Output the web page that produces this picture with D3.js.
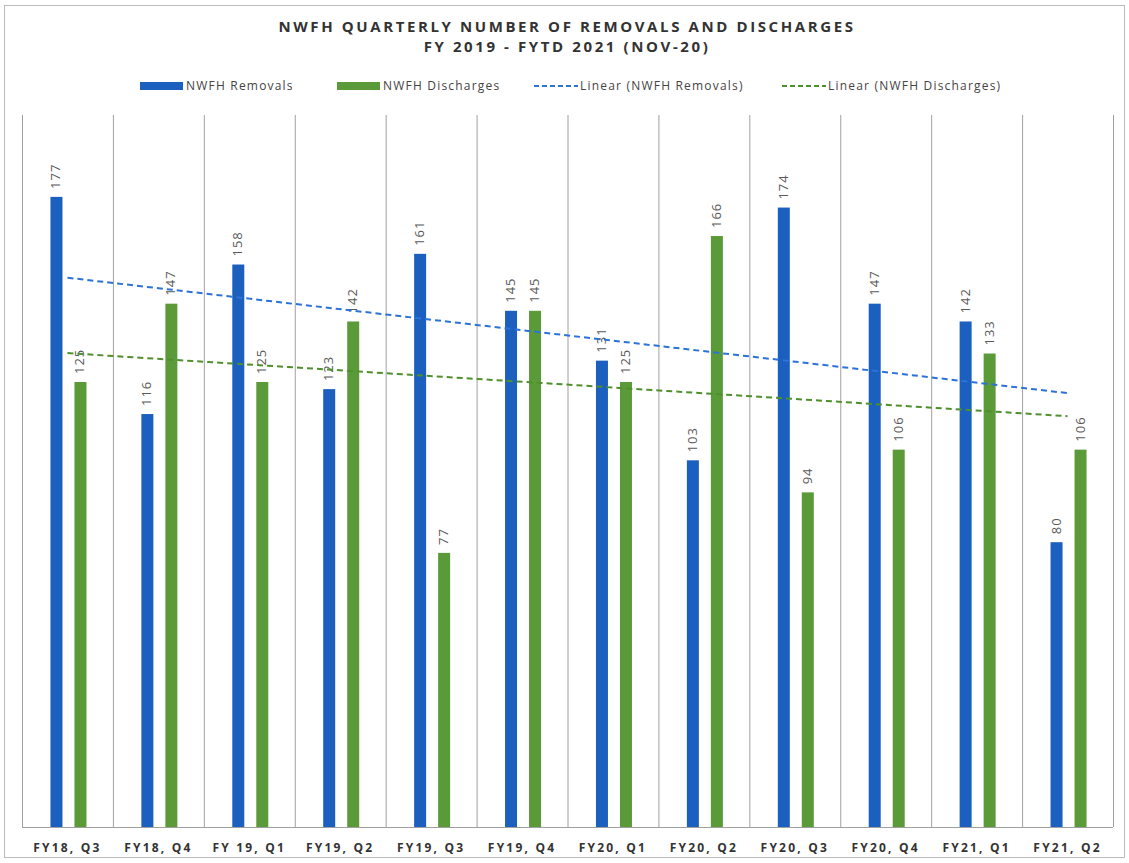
<!DOCTYPE html>
<html>
<head>
<meta charset="utf-8">
<script src="https://cdn.jsdelivr.net/npm/d3@7"></script>
<style>
  body { margin: 0; background: #fff; }
  svg { font-family: "Open Sans", "Noto Sans", sans-serif; }
</style>
</head>
<body>
<script>
const quarters = ["FY18, Q3", "FY18, Q4", "FY 19, Q1", "FY19, Q2", "FY19, Q3", "FY19, Q4",
                  "FY20, Q1", "FY20, Q2", "FY20, Q3", "FY20, Q4", "FY21, Q1", "FY21, Q2"];
const removals = [177, 116, 158, 123, 161, 145, 131, 103, 174, 147, 142, 80];
const discharges = [125, 147, 125, 142, 77, 145, 125, 166, 94, 106, 133, 106];
const yTicks = [0, 200];

const width = 1129, height = 863;
const plotLeft = 22, plotRight = 1113, plotTop = 115, plotBottom = 827;
const blue = "#1b5fbf", green = "#5a9a38";
const blueLine = "#2c72d8", greenLine = "#4f8f2c";

const svg = d3.select("body").append("svg").attr("width", width).attr("height", height);

// outer frame
svg.append("rect").attr("x", 4.5).attr("y", 5.5).attr("width", 1120).attr("height", 852)
  .attr("fill", "none").attr("stroke", "#bbb");

const xScale = d3.scaleBand().domain(quarters).range([plotLeft, plotRight]);
const yScale = d3.scaleLinear().domain(d3.extent(yTicks)).range([plotBottom, plotTop]);
const sub = d3.scaleBand().domain(["r", "d"]).range([-18, 18]).paddingInner(0.5);

// gridlines at category boundaries
const bounds = quarters.map(q => xScale(q)).concat([plotRight]);
svg.append("g").selectAll("line").data(bounds).join("line")
  .attr("x1", d => d + 0.5).attr("x2", d => d + 0.5)
  .attr("y1", plotTop).attr("y2", plotBottom)
  .attr("stroke", "#a0a0a0").attr("stroke-width", 1);
svg.append("line").attr("x1", plotLeft).attr("x2", plotRight)
  .attr("y1", plotBottom + 0.5).attr("y2", plotBottom + 0.5)
  .attr("stroke", "#a0a0a0");

const series = [
  { key: "r", values: removals, color: blue },
  { key: "d", values: discharges, color: green }
];

series.forEach(s => {
  const cx = (i) => xScale(quarters[i]) + xScale.bandwidth() / 2 + 1 + sub(s.key);
  svg.append("g").selectAll("rect").data(s.values).join("rect")
    .attr("x", (d, i) => cx(i))
    .attr("y", d => yScale(d))
    .attr("width", sub.bandwidth())
    .attr("height", d => plotBottom - yScale(d))
    .attr("fill", s.color);
  svg.append("g").selectAll("text").data(s.values).join("text")
    .attr("transform", (d, i) => `translate(${cx(i) + sub.bandwidth() / 2 + 4},${yScale(d) - 8}) rotate(-90)`)
    .attr("font-size", 13).attr("letter-spacing", 1).attr("fill", "#595959")
    .text(d => d);
});

// linear trendlines
function trend(vals) {
  const xs = vals.map((v, i) => i + 1);
  const mx = d3.mean(xs), my = d3.mean(vals);
  const sxy = d3.sum(xs, (x, i) => (x - mx) * (vals[i] - my));
  const sxx = d3.sum(xs, x => (x - mx) * (x - mx));
  const b = sxy / sxx, a = my - b * mx;
  return [1, vals.length].map(x => ({ i: x - 1, v: a + b * x }));
}
const line = d3.line()
  .x(d => xScale(quarters[d.i]) + xScale.bandwidth() / 2)
  .y(d => yScale(d.v));
svg.append("path").attr("d", line(trend(removals))).attr("fill", "none")
  .attr("stroke", blueLine).attr("stroke-width", 2).attr("stroke-dasharray", "6,4");
svg.append("path").attr("d", line(trend(discharges))).attr("fill", "none")
  .attr("stroke", greenLine).attr("stroke-width", 2).attr("stroke-dasharray", "6,4");

// x labels
svg.append("g").selectAll("text").data(quarters).join("text")
  .attr("x", d => xScale(d) + xScale.bandwidth() / 2)
  .attr("y", 852)
  .attr("text-anchor", "middle")
  .attr("font-size", 12).attr("font-weight", "bold").attr("letter-spacing", 2.2)
  .attr("fill", "#333")
  .text(d => d);

// title
svg.append("text").attr("x", 567).attr("y", 32).attr("text-anchor", "middle")
  .attr("font-size", 15).attr("font-weight", "bold").attr("letter-spacing", 2.6).attr("fill", "#333")
  .text("NWFH QUARTERLY NUMBER OF REMOVALS AND DISCHARGES");
svg.append("text").attr("x", 567).attr("y", 52).attr("text-anchor", "middle")
  .attr("font-size", 15).attr("font-weight", "bold").attr("letter-spacing", 2.6).attr("fill", "#333")
  .text("FY 2019 - FYTD 2021 (NOV-20)");

// legend
const legend = [
  { label: "NWFH Removals", color: blue, x: 140, type: "rect" },
  { label: "NWFH Discharges", color: green, x: 337, type: "rect" },
  { label: "Linear (NWFH Removals)", color: blueLine, x: 534, type: "line" },
  { label: "Linear (NWFH Discharges)", color: greenLine, x: 782, type: "line" }
];
legend.forEach(l => {
  if (l.type === "rect") {
    svg.append("rect").attr("x", l.x).attr("y", 82).attr("width", 43).attr("height", 8).attr("fill", l.color);
  } else {
    svg.append("line").attr("x1", l.x).attr("x2", l.x + 44).attr("y1", 86).attr("y2", 86)
      .attr("stroke", l.color).attr("stroke-width", 2).attr("stroke-dasharray", "5,3");
  }
  svg.append("text").attr("x", l.x + 46).attr("y", 90)
    .attr("font-size", 12).attr("letter-spacing", 1.2).attr("fill", "#444").text(l.label);
});
</script>
</body>
</html>
